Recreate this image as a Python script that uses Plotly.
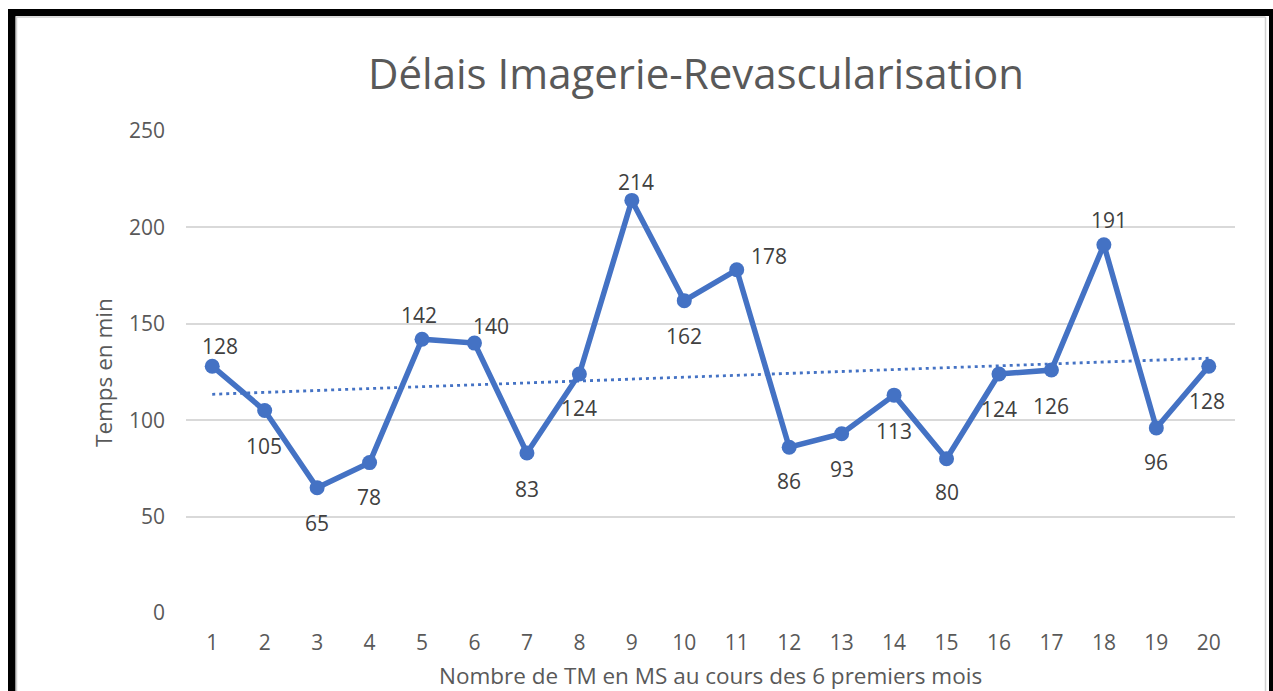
import numpy as np
import plotly.graph_objects as go

categories = list(range(1, 21))
values = [128, 105, 65, 78, 142, 140, 83, 124, 214, 162, 178, 86, 93, 113, 80, 124, 126, 191, 96, 128]
y_ticks = [0, 50, 100, 150, 200, 250]

title_text = "Délais Imagerie-Revascularisation"
x_title = "Nombre de TM en MS au cours des 6 premiers mois"
y_title = "Temps en min"

# label offsets in pixels (dx, dy up-positive)
label_offsets = [(8, 20), (-1, -35), (0, -35), (-1, -34), (-3, 24), (17, 17), (0, -36), (0, -34),
                 (4, 18), (0, -35), (32, 14), (0, -34), (0, -35), (0, -36), (0, -33), (0, -35),
                 (0, -36), (5, 25), (0, -34), (-2, -35)]

W, H = 1273, 691
L, R, T, B = 186, 1235, 131, 613
BLUE = "#4472C4"
FONT = "Open Sans"
TXT = 21

def px(x):
    return (x - L) / (R - L)

def py(y):
    return (B - y) / (B - T)

slope, intercept = np.polyfit(categories, values, 1)
trend_x = [categories[0], categories[-1]]
trend_y = [slope * x + intercept for x in trend_x]

fig = go.Figure()
fig.add_trace(go.Scatter(x=trend_x, y=trend_y, mode="lines",
                         line=dict(color=BLUE, width=2.8, dash="3px,4px"), hoverinfo="skip"))
fig.add_trace(go.Scatter(x=categories, y=values, mode="lines+markers",
                         line=dict(color=BLUE, width=5.5),
                         marker=dict(color=BLUE, size=15)))

annotations = []
for c, v, (dx, dy) in zip(categories, values, label_offsets):
    annotations.append(dict(x=c, y=v, xref="x", yref="y", text=str(v), showarrow=False,
                            xshift=dx, yshift=dy, font=dict(family=FONT, size=TXT, color="#404040")))
annotations.append(dict(x=px(696), y=py(72), xref="paper", yref="paper", text=title_text,
                        showarrow=False, xanchor="center", yanchor="middle",
                        font=dict(family=FONT, size=42, color="#595959")))
annotations.append(dict(x=px(710), y=py(675), xref="paper", yref="paper", text=x_title,
                        showarrow=False, xanchor="center", yanchor="middle",
                        font=dict(family=FONT, size=22.5, color="#595959")))
annotations.append(dict(x=px(103), y=py(373), xref="paper", yref="paper", text=y_title,
                        showarrow=False, xanchor="center", yanchor="middle", textangle=-90,
                        font=dict(family=FONT, size=22.5, color="#595959")))

shapes = [
    dict(type="rect", xref="paper", yref="paper", x0=px(8), x1=px(15.5), y0=py(9), y1=py(700),
         fillcolor="black", line=dict(width=0), layer="above"),
    dict(type="rect", xref="paper", yref="paper", x0=px(8), x1=px(1273), y0=py(9), y1=py(16),
         fillcolor="black", line=dict(width=0), layer="above"),
    dict(type="rect", xref="paper", yref="paper", x0=px(1269), x1=px(1275), y0=py(9), y1=py(700),
         fillcolor="black", line=dict(width=0), layer="above"),
    dict(type="line", xref="paper", yref="paper", x0=px(16), x1=px(1265.5), y0=py(17), y1=py(17),
         line=dict(color="#d0d0d0", width=1.5), layer="above"),
    dict(type="line", xref="paper", yref="paper", x0=px(1265.5), x1=px(1265.5), y0=py(17), y1=py(700),
         line=dict(color="#d0d0d0", width=1.5), layer="above"),
    dict(type="line", xref="paper", yref="paper", x0=px(16.5), x1=px(16.5), y0=py(17), y1=py(700),
         line=dict(color="#d0d0d0", width=1.5), layer="above"),
]

fig.update_layout(
    width=W, height=H,
    margin=dict(l=L, r=W - R, t=T, b=H - B, pad=0),
    paper_bgcolor="white", plot_bgcolor="white",
    showlegend=False,
    annotations=annotations,
    shapes=shapes,
    xaxis=dict(range=[0.5, 20.5], tickmode="array", tickvals=categories,
               ticktext=[str(c) for c in categories], showgrid=False, zeroline=False,
               showline=False, ticks="", ticklabelstandoff=15,
               tickfont=dict(family=FONT, size=TXT, color="#595959")),
    yaxis=dict(range=[0, 250], tickmode="array", tickvals=y_ticks,
               ticktext=[str(t) for t in y_ticks], showgrid=True, gridcolor="#d9d9d9",
               gridwidth=2, zeroline=False, showline=False, ticks="", ticklabelstandoff=20,
               tickfont=dict(family=FONT, size=TXT, color="#595959")),
)

fig.write_html("out.html", config={"displayModeBar": False},
               post_script="document.body.style.margin='0';document.body.style.overflow='hidden';")
